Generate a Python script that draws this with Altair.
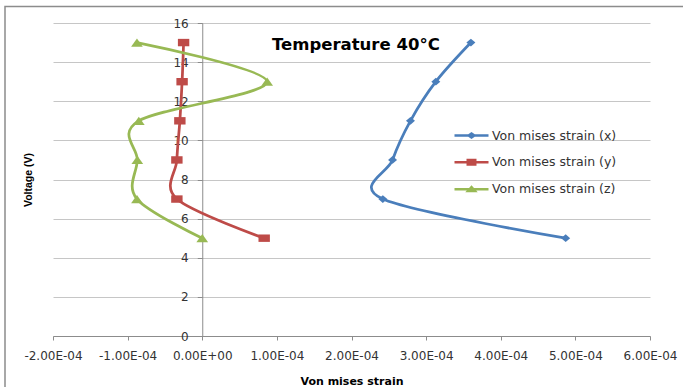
import altair as alt
import pandas as pd

# Measured Von Mises strain at each applied voltage, 40 °C
voltage = [5, 7, 9, 11, 13, 15]
strain_x = [4.87e-4, 2.42e-4, 2.55e-4, 2.79e-4, 3.13e-4, 3.60e-4]
strain_y = [0.83e-4, -0.34e-4, -0.34e-4, -0.30e-4, -0.27e-4, -0.25e-4]
strain_z = [0.00e-4, -0.875e-4, -0.87e-4, -0.85e-4, 0.87e-4, -0.875e-4]

series_names = ["Von mises strain (x)", "Von mises strain (y)", "Von mises strain (z)"]
series_colors = ["#4A7EBB", "#BE4B48", "#98B954"]
chart_title = "Temperature 40°C"

x_ticks = [-2e-4, -1e-4, 0.0, 1e-4, 2e-4, 3e-4, 4e-4, 5e-4, 6e-4]
y_ticks = [0, 2, 4, 6, 8, 10, 12, 14, 16]

W, H = 597, 313
GRID = "#C6C6C6"
AXIS = "#8C8C8C"
TEXT = "#333333"

x_scale = alt.Scale(domain=[-2e-4, 6e-4], nice=False, zero=False)
y_scale = alt.Scale(domain=[0, 16], nice=False)

x_axis = alt.Axis(
    values=x_ticks,
    labelExpr="datum.value == 0 ? '0.00E+00' : (datum.value < 0 ? '-' : '') + format(abs(datum.value) * 10000, '.2f') + 'E-04'",
    labelOverlap=False,
    labelFlush=False,
    grid=False,
    domainColor=AXIS,
    tickColor=AXIS,
    tickSize=4,
    labelPadding=10,
    labelFont="DejaVu Sans",
    labelFontSize=12,
    labelColor=TEXT,
    title="Von mises strain",
    titleFont="DejaVu Sans",
    titleFontSize=11,
    titleFontWeight="bold",
    titleColor="#000000",
    titleBaseline="alphabetic",
    titleY=48,
)

# y axis sits on the x = 0 line, inside the plot
y_axis = alt.Axis(
    values=y_ticks,
    offset=-149.25,
    labelOverlap=False,
    labelFlush=False,
    grid=True,
    gridColor=GRID,
    domainColor=AXIS,
    tickColor=AXIS,
    tickSize=5,
    labelPadding=9,
    labelFont="DejaVu Sans",
    labelFontSize=12,
    labelColor=TEXT,
    title="Voltage (V)",
    titleFont="Liberation Sans",
    titleFontSize=10.5,
    titleFontWeight="bold",
    titleColor="#000000",
    titleBaseline="middle",
    titleX=-174,
    titleY=156.5,
)

# marker shapes (plot) and line+marker glyphs (legend)
plot_markers = [
    ("M-1,0L0,-0.85L1,0L0,0.85Z", 81),
    ("M-1,-0.65H1V0.65H-1Z", 130),
    ("M0,-0.7L1,0.7H-1Z", 137),
]
legend_glyphs = [
    "M-1,0H1M-0.17,0L0,-0.12L0.17,0L0,0.12Z",
    "M-1,0H1M-0.22,-0.13H0.22V0.13H-0.22Z",
    "M-1,0H1M0,-0.12L0.2,0.1H-0.2Z",
]
legend_rows = [94, 120.7, 147.7]


def series_layer(i, values):
    name = series_names[i]
    color = series_colors[i]
    df = pd.DataFrame({"voltage": voltage, "strain": values, "series": name})
    legend = alt.Legend(
        orient="none",
        legendX=400,
        legendY=legend_rows[i],
        title=None,
        padding=0,
        symbolType=legend_glyphs[i],
        symbolSize=1156,
        symbolStrokeWidth=2.5,
        symbolFillColor=color,
        symbolStrokeColor=color,
        symbolOpacity=1,
        labelOffset=2,
        labelFont="DejaVu Sans",
        labelFontSize=12.5,
        labelColor=TEXT,
    )
    color_enc = alt.Color(
        "series:N", scale=alt.Scale(domain=[name], range=[color]), legend=legend
    )
    base = alt.Chart(df).encode(
        x=alt.X("strain:Q", scale=x_scale, axis=x_axis),
        y=alt.Y("voltage:Q", scale=y_scale, axis=y_axis),
        order=alt.Order("voltage:Q"),
        color=color_enc,
    )
    line = base.mark_line(interpolate="cardinal", strokeWidth=2.75)
    path, size = plot_markers[i]
    pts = base.mark_point(shape=path, size=size, filled=True, opacity=1)
    return alt.layer(line, pts)


# chart-area border
frame = alt.Chart(pd.DataFrame({"f": [0]})).mark_rect(
    fill="transparent", stroke="#8C8C8C", strokeWidth=1.5
).encode(
    x=alt.value(-48), x2=alt.value(700), y=alt.value(-16.5), y2=alt.value(400)
)

# title drawn inside the plot area
title = alt.Chart(pd.DataFrame({"t": [chart_title]})).mark_text(
    align="left",
    baseline="alphabetic",
    font="DejaVu Sans",
    fontSize=16.5,
    fontWeight="bold",
    color="#000000",
).encode(text="t:N", x=alt.value(219), y=alt.value(27))

chart = (
    alt.layer(
        frame,
        series_layer(0, strain_x),
        series_layer(1, strain_y),
        series_layer(2, strain_z),
        title,
    )
    .resolve_scale(color="independent")
    .properties(
        width=W,
        height=H,
        padding={"left": 53, "top": 23, "right": 33, "bottom": 51},
        autosize=alt.AutoSizeParams(type="none"),
        background="white",
    )
    .configure_view(stroke=None)
)

chart.save("out.html", embed_options={"renderer": "svg", "actions": False})
